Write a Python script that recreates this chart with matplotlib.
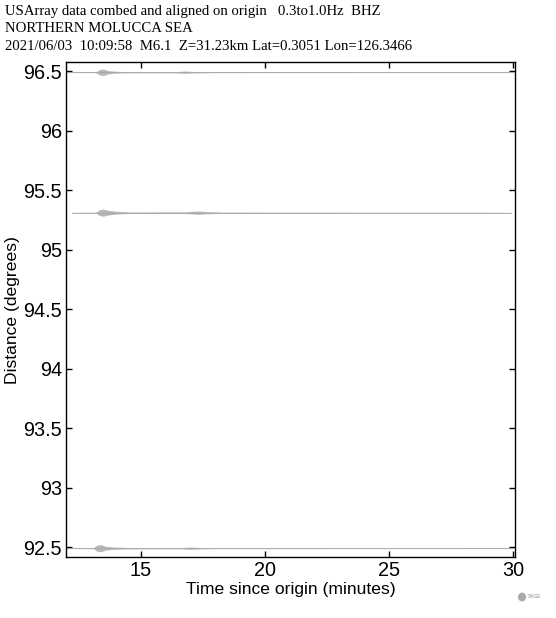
import matplotlib
matplotlib.use("Agg")
import matplotlib.pyplot as plt
import numpy as np

# --- DATA ---
station_dist = [96.49, 95.31, 92.49]

# envelope of each trace: (time in minutes, half-amplitude in degrees)
env_t = [
    [12.0, 13.2, 13.35, 13.5, 13.7, 14.0, 14.6, 16.4, 16.8, 17.2, 18.0, 30.0],
    [12.25, 13.2, 13.35, 13.5, 13.7, 14.0, 14.6, 16.8, 17.3, 17.7, 18.3, 29.9],
    [12.0, 13.1, 13.25, 13.4, 13.6, 13.9, 14.5, 16.6, 17.0, 17.4, 18.0, 30.0],
]
env_a = [
    [0.003, 0.004, 0.022, 0.028, 0.014, 0.008, 0.005, 0.005, 0.010, 0.006, 0.004, 0.003],
    [0.003, 0.004, 0.024, 0.030, 0.020, 0.012, 0.006, 0.007, 0.014, 0.009, 0.005, 0.003],
    [0.003, 0.004, 0.026, 0.030, 0.016, 0.010, 0.006, 0.005, 0.010, 0.006, 0.004, 0.003],
]

title_lines = [
    "USArray data combed and aligned on origin   0.3to1.0Hz  BHZ",
    "NORTHERN MOLUCCA SEA",
    "2021/06/03  10:09:58  M6.1  Z=31.23km Lat=0.3051 Lon=126.3466",
]
x_ticks = [15, 20, 25, 30]
y_ticks = [92.5, 93, 93.5, 94, 94.5, 95, 95.5, 96, 96.5]
y_tick_labels = ["92.5", "93", "93.5", "94", "94.5", "95", "95.5", "96", "96.5"]

fig = plt.figure(figsize=(5.56, 6.18), dpi=100)
ax = fig.add_axes([66 / 556, 1 - 557 / 618, 449 / 556, 495 / 618])

for d, t, a in zip(station_dist, env_t, env_a):
    t = np.array(t)
    a = np.array(a)
    ax.fill_between(t, d - a, d + a, color="#b8b8b8", linewidth=0)
    ax.plot(t, [d] * len(t), color="#a8a8a8", linewidth=0.6)

ax.set_xlim(12.0, 30.08)
ax.set_ylim(92.416, 96.576)
ax.set_xticks(x_ticks)
ax.set_yticks(y_ticks)
ax.set_yticklabels(y_tick_labels)
ax.tick_params(direction="in", top=True, right=True, length=4, width=1,
               labelsize=14.3, pad=3)
for lab in ax.get_xticklabels() + ax.get_yticklabels():
    lab.set_family("Liberation Sans")
for sp in ax.spines.values():
    sp.set_linewidth(1)

ax.set_xlabel("Time since origin (minutes)", family="Liberation Sans",
              fontsize=12.6, labelpad=1)
ax.set_ylabel("Distance (degrees)", family="Liberation Sans",
              fontsize=12.6, labelpad=2)

for i, line in enumerate(title_lines):
    fig.text(5 / 556, 1 - (12 + i * 17) / 618, line, family="Liberation Serif",
             fontsize=10.6, va="center", ha="left")

# small SAGE logo mark
fig.text(528 / 556, 1 - 597 / 618, "SAGE", family="Liberation Sans",
         fontsize=3.5, color="#888888", va="center")
fig.patches.append(matplotlib.patches.Circle((522 / 556, 1 - 597 / 618), 0.006,
                   transform=fig.transFigure, color="#aaaaaa"))

fig.savefig("out.png", dpi=100)
